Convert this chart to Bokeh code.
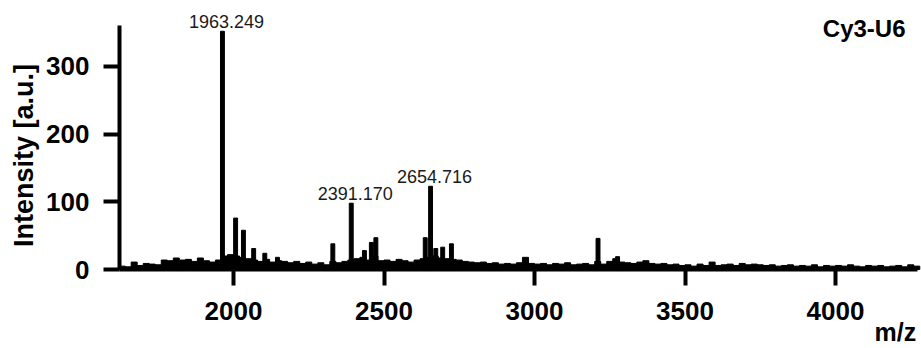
from bokeh.plotting import figure
from bokeh.models import FixedTicker, Label, ColumnDataSource, Range1d
from bokeh.core.properties import value
from bokeh.embed import file_html
from bokeh.resources import INLINE

# Baseline noise of the spectrum (m/z bin centres and intensity, a.u.)
noise_mz = [1630, 1650, 1670, 1690, 1710, 1730, 1750, 1770, 1790, 1810,
            1830, 1850, 1870, 1890, 1910, 1930, 1950, 1970, 1990, 2010,
            2030, 2050, 2070, 2090, 2110, 2130, 2150, 2170, 2190, 2210,
            2230, 2250, 2270, 2290, 2310, 2330, 2350, 2370, 2390, 2410,
            2430, 2450, 2470, 2490, 2510, 2530, 2550, 2570, 2590, 2610,
            2630, 2650, 2670, 2690, 2710, 2730, 2750, 2770, 2790, 2810,
            2830, 2850, 2870, 2890, 2910, 2930, 2950, 2970, 2990, 3010,
            3030, 3050, 3070, 3090, 3110, 3130, 3150, 3170, 3190, 3210,
            3230, 3250, 3270, 3290, 3310, 3330, 3350, 3370, 3390, 3410,
            3430, 3450, 3470, 3490, 3510, 3530, 3550, 3570, 3590, 3610,
            3630, 3650, 3670, 3690, 3710, 3730, 3750, 3770, 3790, 3810,
            3830, 3850, 3870, 3890, 3910, 3930, 3950, 3970, 3990, 4010,
            4030, 4050, 4070, 4090, 4110, 4130, 4150, 4170, 4190, 4210,
            4230, 4250, 4270]
noise_int = [5, 4, 11, 6, 9, 8, 7, 14, 13, 17,
             14, 15, 12, 17, 13, 11, 14, 20, 22, 20,
             18, 16, 14, 12, 15, 11, 13, 12, 10, 12,
             9, 11, 8, 10, 7, 12, 10, 12, 14, 16,
             18, 14, 20, 13, 14, 12, 15, 13, 11, 14,
             16, 18, 20, 17, 16, 15, 14, 12, 11, 10,
             11, 9, 10, 8, 9, 8, 10, 18, 9, 8,
             9, 7, 9, 8, 10, 7, 8, 9, 7, 12,
             8, 12, 16, 11, 10, 9, 11, 13, 9, 8,
             9, 7, 8, 6, 7, 5, 8, 6, 11, 6,
             7, 8, 6, 9, 7, 8, 7, 6, 7, 5,
             6, 7, 5, 6, 5, 7, 4, 6, 5, 6,
             5, 7, 5, 4, 6, 5, 6, 4, 5, 6,
             4, 7, 5]

# Distinct peaks (m/z, intensity a.u.)
peak_mz = [1963.249, 2007, 2033, 2067, 2104, 2146, 2330, 2391.170, 2435,
           2458, 2473, 2637, 2654.716, 2672, 2695, 2724, 3211, 3276]
peak_int = [352, 76, 58, 31, 24, 18, 38, 98, 28,
            40, 47, 47, 123, 31, 33, 38, 46, 19]

# Annotated peaks
label_mz = [1963.249, 2391.170, 2654.716]
label_int = [352, 98, 123]
label_txt = ["1963.249", "2391.170", "2654.716"]

x_ticks = [2000, 2500, 3000, 3500, 4000]
y_ticks = [0, 100, 200, 300]
x_lo, x_hi = 1621, 4272
y_lo, y_hi = 0, 360.6

p = figure(width=921, height=348, output_backend="svg", toolbar_location=None,
           x_range=Range1d(1225.9, 4285.7), y_range=Range1d(-116.7, 397.5),
           min_border=0)
p.outline_line_color = None
p.grid.visible = False
p.background_fill_color = "white"
p.border_fill_color = "white"

p.vbar(x=noise_mz, top=noise_int, bottom=0, width=20, color="black")
p.vbar(x=peak_mz, top=peak_int, bottom=0, width=13, color="black")

src = ColumnDataSource(dict(x=label_mz, y=label_int, t=label_txt))
p.text(x="x", y="y", text="t", source=src, text_align="center",
       text_baseline="alphabetic", x_offset=4, y_offset=-10,
       text_font=value("Liberation Sans"), text_font_size="18px",
       text_color="#1a1a1a")

for ax, ticks in ((p.xaxis, x_ticks), (p.yaxis, y_ticks)):
    ax.ticker = FixedTicker(ticks=ticks)
    ax.axis_line_width = 4
    ax.axis_line_color = "black"
    ax.major_tick_line_width = 4
    ax.major_tick_line_color = "black"
    ax.major_tick_out = 16
    ax.major_tick_in = 0
    ax.minor_tick_out = 0
    ax.minor_tick_in = 0
    ax.major_label_text_font = "Liberation Sans"
    ax.major_label_text_font_style = "bold"
    ax.major_label_text_font_size = "26px"
    ax.major_label_text_color = "black"

p.xaxis.major_label_standoff = 16
p.yaxis.major_label_standoff = 14
p.xaxis.fixed_location = 0
p.yaxis.fixed_location = x_lo
p.xaxis.bounds = (x_lo, x_hi)
p.yaxis.bounds = (y_lo, y_hi)

p.add_layout(Label(x=1304, y=168.5, text="Intensity [a.u.]", angle=90,
                   angle_units="deg", text_align="center",
                   text_baseline="middle", text_font="Liberation Sans",
                   text_font_style="bold", text_font_size="27px",
                   text_color="black"))
p.add_layout(Label(x=4268, y=-93, text="m/z", text_align="right",
                   text_baseline="alphabetic", text_font="Liberation Sans",
                   text_font_style="bold", text_font_size="25px",
                   text_color="black"))
p.add_layout(Label(x=4232.6, y=356, text="Cy3-U6", text_align="right",
                   text_baseline="alphabetic", text_font="Liberation Sans",
                   text_font_style="bold", text_font_size="24px",
                   text_color="black"))

open("out.html", "w").write(file_html(p, INLINE))
